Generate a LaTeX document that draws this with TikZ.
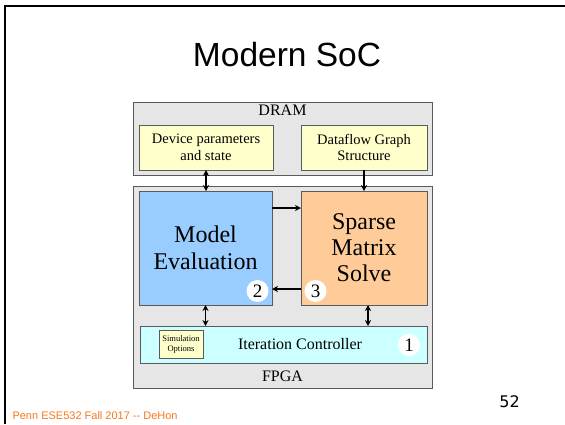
\documentclass[tikz,border=0pt]{standalone}
\usepackage{fontspec}
\setmainfont{Liberation Serif}
\newfontfamily\arialf{Liberation Sans}
\newfontfamily\pagenumf{DejaVu Sans}
\usetikzlibrary{arrows.meta,calc}

\definecolor{boxgray}{HTML}{E6E6E6}
\definecolor{edgegray}{HTML}{5A5A5A}
\definecolor{paleyellow}{HTML}{FFFFCC}
\definecolor{skyblue}{HTML}{99CCFF}
\definecolor{peach}{HTML}{FFCC99}
\definecolor{palecyan}{HTML}{CCFFFF}
\definecolor{footorange}{HTML}{F7781E}

\tikzset{
  region/.style={draw=edgegray, line width=1pt, fill=boxgray, inner sep=0pt, outer sep=0pt},
  unit/.style={draw=edgegray, line width=1pt, inner sep=0pt, outer sep=0pt, align=center},
  badge/.style={circle, fill=white, inner sep=0pt, minimum size=22pt, font=\fontsize{19}{19}\selectfont},
  tip/.tip={Stealth[length=6pt,width=6pt]},
  link/.style={line width=1.2pt, -tip},
  duplex/.style={line width=1.2pt, tip-tip},
}

\begin{document}
\begin{tikzpicture}[x=1pt, y=-1pt]
\useasboundingbox (0,0) rectangle (565,424);

% slide frame lines
\draw[line width=2pt] (5,424) -- (5,6) -- (565,6);

% title
\node (title) at (287,55) {\arialf\fontsize{33.5}{36}\selectfont Modern SoC};

% memory and fabric regions
\node[region, minimum width=299pt, minimum height=73pt] (dram) at (282.5,138.5) {};
\node (dramlbl) at (282.5,110.5) {\fontsize{16}{16}\selectfont DRAM};
\node[region, minimum width=299pt, minimum height=202pt] (fpga) at (282.5,287) {};
\node (fpgalbl) at (282.5,376.5) {\fontsize{16}{16}\selectfont FPGA};

% DRAM contents
\node[unit, fill=paleyellow, minimum width=134pt, minimum height=45pt,
      font=\fontsize{14.5}{16.5}\selectfont] (dev) at (206,147.5) {Device parameters\\and state};
\node[unit, fill=paleyellow, minimum width=126pt, minimum height=45pt,
      font=\fontsize{14.5}{16.5}\selectfont] (dfg) at (364,147.5) {Dataflow Graph\\Structure};

% FPGA contents
\node[unit, fill=skyblue, minimum width=133pt, minimum height=114pt,
      font=\fontsize{24}{26.5}\selectfont] (model) at (205.5,248) {Model\\Evaluation};
\node[unit, fill=peach, minimum width=126pt, minimum height=114pt,
      font=\fontsize{24}{26}\selectfont] (solve) at (364,248) {Sparse\\Matrix\\Solve};
\node[unit, fill=palecyan, minimum width=287pt, minimum height=37pt] (ctrl) at (283.5,344.5) {};
\node (ctrllbl) at (300,344) {\fontsize{16}{16}\selectfont Iteration Controller};
\node[unit, fill=paleyellow, minimum width=44pt, minimum height=28pt,
      font=\fontsize{8.5}{10}\selectfont] (simopt) at (181,344) {Simulation\\Options};

% step markers
\node[badge] (b1) at (409,345) {1};
\node[badge] (b2) at (257.5,291) {2};
\node[badge] (b3) at (315.5,291) {3};

% data paths
\draw[duplex] (dev.south) -- (dev.south |- model.north);
\draw[link] (dfg.south) -- (solve.north);
\draw[link] ([yshift=-17pt]model.north east) -- ([yshift=-17pt]model.north east -| solve.west);
\draw[link] ([yshift=16pt]solve.south west) -- ([yshift=16pt]solve.south west -| model.east);
\draw[duplex] (model.south) -- (model.south |- ctrl.north);
\draw[duplex] ([xshift=4pt]solve.south) -- ([xshift=4pt]solve.south |- ctrl.north);

% footer
\node[anchor=west, text=footorange] (foot) at (9,416) {\arialf\fontsize{11}{11}\selectfont Penn ESE532 Fall 2017 -- DeHon};
\node (pagenum) at (509.5,402) {\pagenumf\fontsize{16}{16}\selectfont 52};
\end{tikzpicture}
\end{document}
